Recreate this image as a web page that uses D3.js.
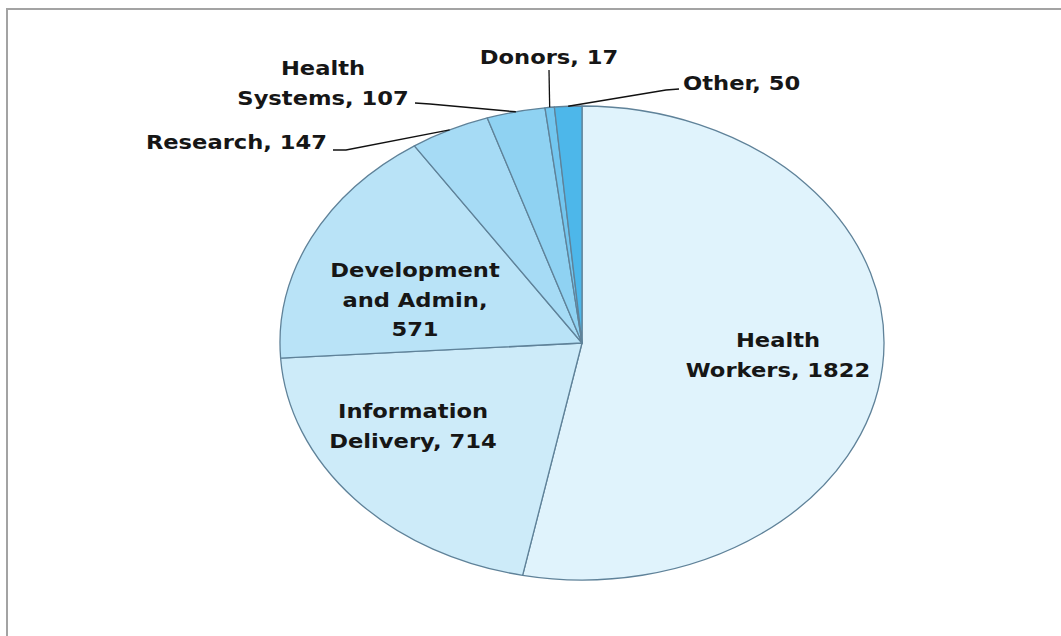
<!DOCTYPE html>
<html>
<head>
<meta charset="utf-8">
<script src="https://cdn.jsdelivr.net/npm/d3@7"></script>
<style>
  html, body { margin: 0; padding: 0; background: #fff; }
  svg { display: block; }
  text { font-family: "DejaVu Sans", Verdana, sans-serif; font-weight: bold; fill: #161616; }
</style>
</head>
<body>
<svg id="chart" width="1061" height="636"></svg>
<script>
// ---- data ----
const categories = ["Health Workers", "Information Delivery", "Development and Admin", "Research", "Health Systems", "Donors", "Other"];
const values = [1822, 714, 571, 147, 107, 17, 50];
// how each label is split into lines ("|" = line break)
const labelTexts = ["Health|Workers, 1822", "Information|Delivery, 714", "Development|and Admin,|571", "Research, 147", "Health|Systems, 107", "Donors, 17", "Other, 50"];
const colors = ["#e0f3fc", "#cdebf9", "#b9e3f7", "#a6dbf5", "#8fd2f2", "#72c6ef", "#4db7ea"];

// ---- layout ----
const W = 1061, H = 636;
const cx = 582, cy = 343, rx = 302, ry = 237;
const textStretch = 1.16;
const svg = d3.select("#chart");

// outer frame (extends past right/bottom edge like the reference)
svg.append("rect")
  .attr("x", 7).attr("y", 9).attr("width", W + 20).attr("height", H + 20)
  .attr("fill", "#fff").attr("stroke", "#a3a3a3").attr("stroke-width", 2);

const pie = d3.pie().sort(null).value(d => d).startAngle(0).endAngle(2 * Math.PI);
const arcs = pie(values);
const arc = d3.arc().innerRadius(0).outerRadius(rx);

const g = svg.append("g").attr("transform", `translate(${cx},${cy}) scale(1,${ry / rx})`);
g.selectAll("path").data(arcs).enter().append("path")
  .attr("d", arc)
  .attr("fill", (d, i) => colors[i])
  .attr("stroke", "#5f8299")
  .attr("stroke-width", 1.3)
  .attr("vector-effect", "non-scaling-stroke")
  .attr("stroke-linejoin", "round");

function edgePoint(d) {
  const a = (d.startAngle + d.endAngle) / 2;
  return [cx + Math.sin(a) * rx, cy - Math.cos(a) * ry];
}

// label placement (layout, not data): [x, y of first line, anchor, line spacing]
const labelPos = [
  [778, 340, "middle", 30],
  [413, 411, "middle", 30],
  [415, 270, "middle", 29.5],
  [327, 142, "end", 30],
  [323, 68, "middle", 30],
  [549, 57, "middle", 30],
  [683, 83, "start", 30]
];
// leader line start points for outside labels
const leaderStarts = {
  3: [[333, 150], [346, 150]],
  4: [[415, 103], [430, 104]],
  5: [[549, 70]],
  6: [[679, 89], [666, 90]]
};

Object.keys(leaderStarts).forEach(k => {
  const i = +k;
  const pts = leaderStarts[k].concat([edgePoint(arcs[i])]);
  svg.append("path")
    .attr("d", d3.line()(pts))
    .attr("fill", "none")
    .attr("stroke", "#111")
    .attr("stroke-width", 1.3);
});

labelTexts.forEach((t, i) => {
  const [x, y, anchor, lh] = labelPos[i];
  const txt = svg.append("text")
    .attr("transform", `translate(${x},${y}) scale(${textStretch},1)`)
    .attr("text-anchor", anchor)
    .attr("font-size", 19.5);
  t.split("|").forEach((line, j) => {
    txt.append("tspan")
      .attr("x", 0)
      .attr("y", j * lh)
      .attr("dy", "0.36em")
      .text(line);
  });
});
</script>
</body>
</html>
